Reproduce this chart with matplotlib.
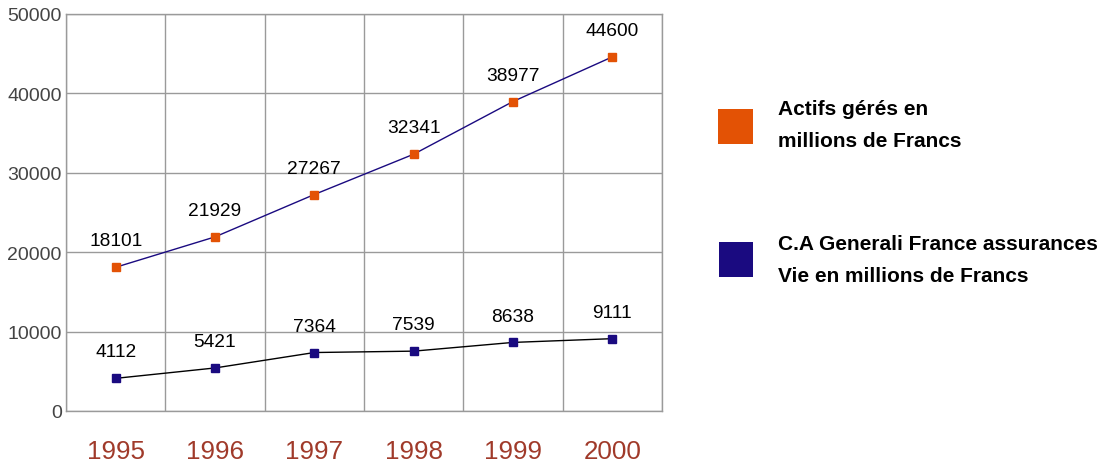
import matplotlib
matplotlib.use("Agg")
import matplotlib.pyplot as plt
from matplotlib.patches import Rectangle

plt.rcParams['font.family'] = ['Liberation Sans', 'DejaVu Sans']

years = ['1995', '1996', '1997', '1998', '1999', '2000']
actifs = [18101, 21929, 27267, 32341, 38977, 44600]
ca_vie = [4112, 5421, 7364, 7539, 8638, 9111]
yticks = [0, 10000, 20000, 30000, 40000, 50000]

orange = '#e35205'
navy = '#1a0a80'
grid_grey = '#9a9a9a'

fig = plt.figure(figsize=(11.11, 4.64), dpi=100)
ax = fig.add_axes([66/1111, 1-412/464, 596/1111, 397/464])

xs = [i + 0.5 for i in range(len(years))]

ax.plot(xs, actifs, color=navy, lw=1, marker='s', ms=6,
        mfc=orange, mec=orange, zorder=3)
ax.plot(xs, ca_vie, color='black', lw=1, marker='s', ms=6,
        mfc=navy, mec=navy, zorder=3)

for x, v in zip(xs, actifs):
    ax.annotate(str(v), (x, v), xytext=(0, 19), textcoords='offset points',
                ha='center', va='center', fontsize=13.8, color='black')
for x, v in zip(xs, ca_vie):
    ax.annotate(str(v), (x, v), xytext=(0, 19), textcoords='offset points',
                ha='center', va='center', fontsize=13.8, color='black')

ax.set_xlim(0, len(years))
ax.set_ylim(0, 50000)
ax.set_yticks(yticks)
ax.set_yticklabels([str(t) for t in yticks], fontsize=14, color='#444444')
ax.set_xticks(xs)
ax.set_xticklabels(years, fontsize=18.7, color='#a03a2a')
ax.tick_params(axis='both', which='both', length=0)
ax.tick_params(axis='x', pad=20)
ax.tick_params(axis='y', pad=3)

ax.grid(False)
for y in yticks:
    ax.axhline(y, color=grid_grey, lw=1, zorder=1)
for i in range(len(years) + 1):
    ax.axvline(i, color=grid_grey, lw=1, zorder=1)
for s in ax.spines.values():
    s.set_color(grid_grey)
    s.set_linewidth(1)

# legend
fig.add_artist(Rectangle((718/1111, 1-145/464), 35/1111, 35/464,
                         transform=fig.transFigure, color=orange, lw=0))
fig.add_artist(Rectangle((719/1111, 1-278/464), 34/1111, 35/464,
                         transform=fig.transFigure, color=navy, lw=0))
leg_kw = dict(fontsize=15, fontweight='bold', ha='left', va='center', color='black')
fig.text(778/1111, 1-110/464, 'Actifs gérés en', **leg_kw)
fig.text(778/1111, 1-142/464, 'millions de Francs', **leg_kw)
fig.text(778/1111, 1-245/464, 'C.A Generali France assurances', **leg_kw)
fig.text(778/1111, 1-277/464, 'Vie en millions de Francs', **leg_kw)

fig.savefig('out.png', dpi=100, facecolor='white')
